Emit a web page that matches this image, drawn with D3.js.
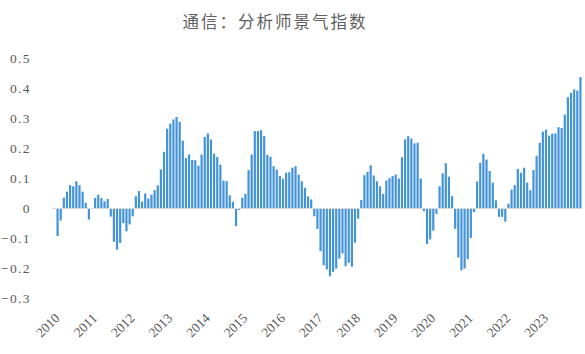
<!DOCTYPE html>
<html>
<head>
<meta charset="utf-8">
<script src="https://cdn.jsdelivr.net/npm/d3@7"></script>
<style>
  body { margin: 0; background: #fff; }
  svg { display: block; }
</style>
</head>
<body>
<div id="app"></div>
<script>
// chart data: monthly analyst sentiment index, Jan 2010 .. Dec 2023
let title = "通信：分析师景气指数"
let years = ["2010", "2011", "2012", "2013", "2014", "2015", "2016",
             "2017", "2018", "2019", "2020", "2021", "2022", "2023"]
let yTicks = [-0.3, -0.2, -0.1, 0, 0.1, 0.2, 0.3, 0.4, 0.5]

let values = [
  -0.092, -0.040, 0.036, 0.056, 0.078, 0.074, 0.091, 0.078, 0.056, 0.019, -0.037, 0.000,   // 2010
  0.035, 0.046, 0.035, 0.024, 0.032, -0.027, -0.111, -0.137, -0.115, -0.049, -0.076, -0.053, // 2011
  -0.026, 0.041, 0.058, 0.023, 0.050, 0.033, 0.046, 0.061, 0.077, 0.130, 0.189, 0.266,     // 2012
  0.283, 0.297, 0.305, 0.289, 0.226, 0.168, 0.180, 0.162, 0.161, 0.143, 0.180, 0.239,      // 2013
  0.250, 0.230, 0.183, 0.172, 0.146, 0.093, 0.091, 0.044, 0.022, -0.059, -0.005, 0.036,    // 2014
  0.049, 0.128, 0.180, 0.258, 0.258, 0.261, 0.241, 0.179, 0.173, 0.141, 0.130, 0.108,      // 2015
  0.099, 0.119, 0.121, 0.136, 0.141, 0.113, 0.091, 0.069, 0.040, 0.030, -0.026, -0.068,    // 2016
  -0.142, -0.189, -0.203, -0.226, -0.211, -0.200, -0.167, -0.150, -0.192, -0.181, -0.194, -0.114, // 2017
  -0.034, 0.028, 0.111, 0.122, 0.144, 0.110, 0.091, 0.074, 0.049, 0.093, 0.101, 0.108,    // 2018
  0.113, 0.100, 0.171, 0.230, 0.241, 0.233, 0.217, 0.219, 0.100, -0.009, -0.118, -0.103,   // 2019
  -0.074, -0.018, 0.074, 0.117, 0.151, 0.106, 0.041, -0.068, -0.163, -0.206, -0.200, -0.169, // 2020
  -0.098, -0.012, 0.090, 0.152, 0.182, 0.163, 0.125, 0.086, 0.027, -0.028, -0.028, -0.044, // 2021
  0.016, 0.063, 0.078, 0.132, 0.119, 0.136, 0.086, 0.061, 0.128, 0.176, 0.219, 0.256,      // 2022
  0.263, 0.243, 0.250, 0.250, 0.271, 0.268, 0.313, 0.371, 0.386, 0.397, 0.393, 0.438       // 2023
]

let width = 585
let height = 354
let margin = {top: 58.5, right: 3, bottom: 55.5, left: 56}

let svg = d3.select("#app").append("svg")
    .attr("width", width)
    .attr("height", height)

let x = d3.scaleBand()
    .domain(d3.range(values.length))
    .range([margin.left, width - margin.right])
    .paddingInner(0.3)
    .paddingOuter(0.15)

let y = d3.scaleLinear()
    .domain([-0.3, 0.5])
    .range([height - margin.bottom, margin.top])

// title
svg.append("text")
    .attr("x", 275)
    .attr("y", 28)
    .attr("text-anchor", "middle")
    .attr("font-family", "'Noto Sans CJK SC', sans-serif")
    .attr("font-size", 16.5)
    .attr("letter-spacing", 2)
    .attr("fill", "#606060")
    .text(title)

// y labels (no axis line, no gridlines)
let fmt = d3.format(".1f")
svg.append("g").selectAll("text")
    .data(yTicks)
    .enter().append("text")
    .attr("x", 31)
    .attr("y", d => y(d))
    .attr("dy", "0.35em")
    .attr("text-anchor", "end")
    .attr("font-family", "'Liberation Serif', serif")
    .attr("font-size", 13.5)
    .attr("letter-spacing", 1.4)
    .attr("fill", "#595959")
    .text(d => d === 0 ? "0" : fmt(d))

// bars
svg.append("g").selectAll("rect")
    .data(values)
    .enter().append("rect")
    .attr("x", (d, i) => x(i))
    .attr("width", x.bandwidth())
    .attr("y", d => y(Math.max(0, d)))
    .attr("height", d => Math.abs(y(d) - y(0)))
    .attr("fill", "#4393d8")

// zero line
svg.append("line")
    .attr("x1", 52)
    .attr("x2", width - 3)
    .attr("y1", y(0))
    .attr("y2", y(0))
    .attr("stroke", "#d9d9d9")
    .attr("stroke-width", 1)

// year labels, rotated
svg.append("g").selectAll("text")
    .data(years)
    .enter().append("text")
    .attr("transform", (d, i) => {
        let px = x(i * 12) + 4
        return "translate(" + px + ",319) rotate(-45)"
    })
    .attr("text-anchor", "end")
    .attr("font-family", "'Liberation Serif', serif")
    .attr("font-size", 13.5)
    .attr("fill", "#595959")
    .text(d => d)
</script>
</body>
</html>
